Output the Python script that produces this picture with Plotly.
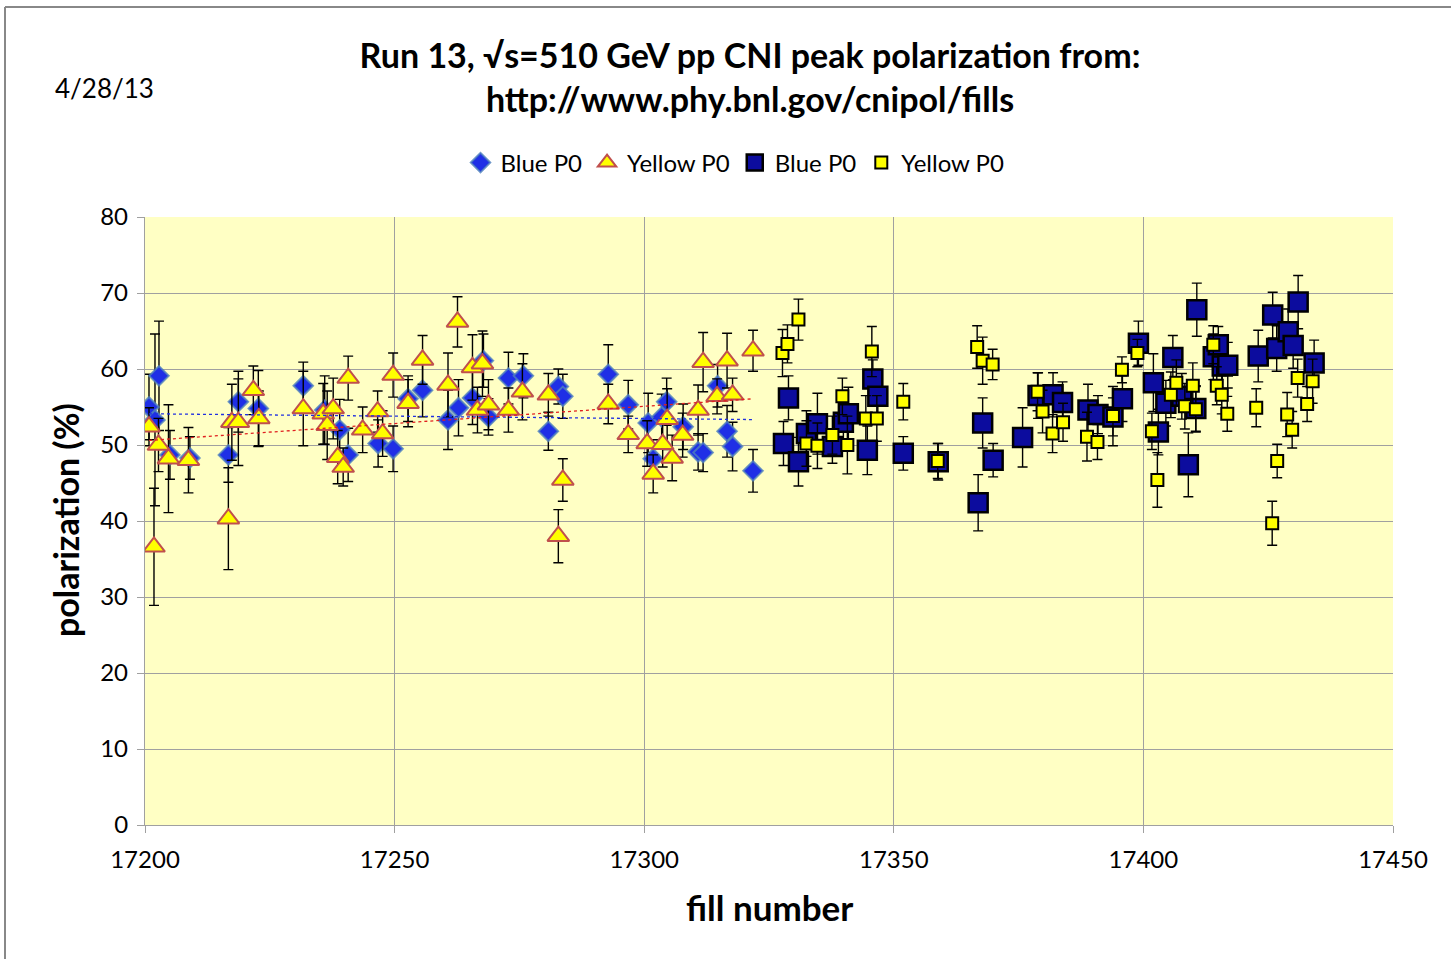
import numpy as np
import plotly.graph_objects as go

# ---- data ----
# old-style fills (diamonds / triangles)
blue_old_fill = [17200.8, 17202.0, 17202.8, 17205.0, 17209.0, 17216.7, 17218.7, 17222.7, 17231.7, 17236.0,
                 17239.0, 17240.7, 17246.7, 17249.7, 17252.7, 17255.6, 17260.7, 17262.8, 17265.6, 17267.8,
                 17268.8, 17272.8, 17275.8, 17280.8, 17282.8, 17283.7, 17292.8, 17296.8, 17300.8, 17301.8,
                 17303.5, 17304.5, 17307.8, 17310.8, 17311.8, 17314.7, 17316.6, 17317.7, 17321.8]
blue_old_pol = [55.0, 53.3, 59.1, 48.7, 48.3, 48.7, 55.7, 54.8, 57.8, 54.6,
                52.0, 48.7, 50.2, 49.5, 56.1, 57.2, 53.3, 54.9, 56.2, 61.1,
                53.7, 58.8, 59.1, 51.8, 57.7, 56.4, 59.3, 55.3, 52.9, 48.2,
                53.7, 55.7, 52.4, 49.1, 49.0, 57.8, 51.8, 49.8, 46.6]
blue_old_err = [4.3, 11.3, 7.2, 3.2, 2.8, 3.6, 4.0, 5.0, 3.1, 4.5,
                4.0, 3.5, 3.1, 3.0, 3.0, 3.5, 3.9, 3.7, 3.5, 3.5,
                2.4, 3.4, 2.9, 2.5, 2.3, 2.9, 3.9, 3.2, 3.9, 2.5,
                3.0, 3.1, 3.0, 2.4, 2.5, 2.8, 3.4, 3.2, 2.8]

yellow_old_fill = [17200.8, 17201.8, 17202.7, 17204.7, 17208.7, 17216.7, 17217.4, 17218.7, 17221.7, 17222.8,
                   17231.7, 17235.7, 17236.5, 17237.7, 17238.6, 17239.7, 17240.7, 17243.6, 17246.6, 17247.6,
                   17249.7, 17252.7, 17255.6, 17260.7, 17262.6, 17265.6, 17266.6, 17267.6, 17268.8, 17272.8,
                   17275.6, 17280.8, 17282.8, 17283.7, 17292.8, 17296.8, 17300.6, 17301.8, 17303.7, 17304.6,
                   17305.6, 17307.7, 17310.8, 17311.8, 17314.6, 17316.6, 17317.7, 17321.8]
yellow_old_pol = [52.4, 36.6, 50.0, 48.2, 48.0, 40.3, 53.0, 53.0, 57.2, 53.5,
                  54.8, 54.1, 52.6, 54.8, 48.4, 47.1, 58.8, 52.0, 54.4, 51.5,
                  59.2, 55.5, 61.2, 57.9, 66.2, 60.2, 54.6, 60.7, 55.3, 54.6,
                  57.0, 56.6, 38.0, 45.4, 55.4, 51.4, 50.2, 46.2, 50.1, 53.4,
                  48.3, 51.3, 54.6, 60.9, 56.4, 61.1, 56.6, 62.4]
yellow_old_err = [2.5, 7.7, 3.5, 7.1, 4.3, 6.7, 5.0, 5.7, 3.2, 3.6,
                  4.9, 4.0, 4.5, 4.0, 3.5, 2.5, 2.9, 3.0, 2.7, 3.0,
                  2.9, 3.1, 3.2, 4.2, 3.3, 4.3, 3.0, 4.3, 3.3, 2.9,
                  3.7, 2.8, 3.5, 2.8, 2.6, 2.4, 3.0, 2.5, 3.0, 4.0,
                  3.0, 2.9, 3.3, 3.9, 2.3, 3.6, 2.2, 2.7]

# newer fills (squares)
blue_new_fill = [17327.9, 17328.9, 17330.9, 17332.5, 17334.7, 17337.7, 17339.9, 17340.9, 17344.7, 17345.8,
                 17346.8, 17351.9, 17358.9, 17366.9, 17367.8, 17369.9, 17375.8, 17378.9, 17381.9, 17383.8,
                 17388.9, 17390.9, 17393.9, 17395.8, 17399.0, 17402.0, 17403.0, 17404.5, 17405.9, 17407.7,
                 17409.0, 17410.5, 17410.7, 17414.0, 17415.0, 17415.8, 17416.9, 17423.0, 17425.9, 17426.7,
                 17429.0, 17430.0, 17431.0, 17434.2]
blue_new_pol = [50.2, 56.2, 47.8, 51.5, 52.8, 49.8, 53.0, 54.1, 49.3, 58.7,
                56.4, 48.9, 47.8, 42.4, 52.9, 48.0, 51.0, 56.5, 56.6, 55.6,
                54.6, 54.0, 53.7, 56.1, 63.4, 58.2, 51.7, 55.5, 61.5, 56.4,
                47.4, 54.8, 67.8, 61.6, 63.2, 60.4, 60.5, 61.7, 67.1, 62.7,
                64.9, 63.1, 68.8, 60.8]
blue_new_err = [2.9, 2.9, 3.2, 3.0, 4.0, 2.2, 3.0, 3.5, 3.2, 2.5,
                3.0, 2.2, 2.4, 3.7, 3.3, 2.2, 3.9, 3.0, 2.9, 2.7,
                3.4, 2.5, 2.5, 3.0, 2.9, 3.8, 3.0, 3.0, 2.9, 3.0,
                4.2, 3.0, 3.5, 3.0, 2.4, 3.0, 3.0, 3.4, 3.0, 3.0,
                3.0, 3.0, 3.5, 3.0]

yellow_new_fill = [17327.7, 17328.7, 17330.9, 17332.5, 17334.7, 17337.7, 17339.7, 17340.7, 17344.4, 17345.6,
                   17346.6, 17351.9, 17358.8, 17366.7, 17367.8, 17369.8, 17378.8, 17379.8, 17381.8, 17383.9,
                   17388.7, 17390.8, 17393.9, 17395.7, 17398.8, 17401.7, 17402.8, 17405.5, 17406.6, 17408.3,
                   17409.9, 17410.5, 17414.0, 17414.7, 17415.7, 17416.8, 17422.6, 17425.8, 17426.8, 17428.8,
                   17429.8, 17430.9, 17432.8, 17433.9]
yellow_new_pol = [62.1, 63.3, 66.5, 50.2, 49.9, 51.3, 56.4, 50.0, 53.5, 62.3,
                  53.5, 55.7, 47.9, 62.9, 61.1, 60.6, 57.0, 54.4, 51.5, 53.0,
                  51.1, 50.4, 53.8, 59.9, 62.1, 51.8, 45.4, 56.6, 58.2, 55.1,
                  57.8, 54.7, 63.2, 57.8, 56.6, 54.1, 54.9, 39.7, 47.9, 54.0,
                  52.0, 58.8, 55.4, 58.4]
yellow_new_err = [3.1, 2.5, 2.7, 3.0, 3.0, 2.5, 2.4, 3.8, 3.0, 3.3,
                  3.0, 2.4, 2.3, 2.8, 3.1, 2.0, 2.5, 2.8, 2.5, 2.5,
                  3.2, 2.3, 3.9, 1.7, 1.8, 2.4, 3.6, 3.0, 3.0, 3.0,
                  3.0, 3.0, 2.5, 2.5, 2.5, 2.3, 2.5, 2.9, 2.2, 2.9,
                  2.4, 2.5, 2.3, 2.9]

FONT = "Lato"


def err_bar(e):
    return dict(type="data", array=e, visible=True, color="black", thickness=1.4, width=5)


fig = go.Figure()

fig.add_trace(go.Scatter(
    x=blue_old_fill, y=blue_old_pol, mode="markers", name="Blue P0",
    error_y=err_bar(blue_old_err),
    marker=dict(symbol="diamond", size=15, color="#1F2FE6",
                line=dict(color="rgba(79,129,189,0.8)", width=2))))
fig.add_trace(go.Scatter(
    x=yellow_old_fill, y=yellow_old_pol, mode="markers", name="Yellow P0",
    error_y=err_bar(yellow_old_err),
    marker=dict(symbol="triangle-up", size=19, color="#FFFF00",
                line=dict(color="#C0504D", width=2))))
fig.add_trace(go.Scatter(
    x=blue_new_fill, y=blue_new_pol, mode="markers", name="Blue P0",
    error_y=err_bar(blue_new_err),
    marker=dict(symbol="square", size=19, color="#0C0C9E",
                line=dict(color="black", width=2.5))))
fig.add_trace(go.Scatter(
    x=yellow_new_fill, y=yellow_new_pol, mode="markers", name="Yellow P0",
    error_y=err_bar(yellow_new_err),
    marker=dict(symbol="square", size=12, color="#FFFF00",
                line=dict(color="black", width=2))))

# linear trendlines over the diamond / triangle series (Excel style)
for xs, ys, col in [(blue_old_fill, blue_old_pol, "#2030E0"),
                    (yellow_old_fill, yellow_old_pol, "#E02020")]:
    k, b = np.polyfit(xs, ys, 1)
    tx = np.array([min(xs), max(xs)])
    fig.add_trace(go.Scatter(x=tx, y=k * tx + b, mode="lines", showlegend=False,
                             hoverinfo="skip",
                             line=dict(color=col, width=1.3, dash="dot")))

fig.update_layout(
    width=1451, height=959,
    margin=dict(l=145, r=58, t=217, b=134),
    paper_bgcolor="white", plot_bgcolor="#FFFFC4",
    font=dict(family=FONT, size=24, color="black"),
    title=dict(text="<b>Run 13, √s=510 GeV pp CNI peak polarization from:<br>"
                    "http://www.phy.bnl.gov/cnipol/fills</b>",
               x=750 / 1451, xanchor="center", xref="container",
               y=1 - 68 / 959, yanchor="middle", yref="container",
               font=dict(family=FONT, size=34, color="black")),
    legend=dict(orientation="h", xref="container", yref="container",
                x=735 / 1451, xanchor="center", y=1 - 163 / 959, yanchor="middle",
                font=dict(family=FONT, size=24), itemsizing="trace",
                bgcolor="rgba(0,0,0,0)", itemwidth=30, tracegroupgap=0),
    showlegend=True,
)

fig.update_xaxes(range=[17200, 17450], dtick=50, tick0=17200, tickformat="d",
                 showgrid=True, gridcolor="#A0A0A0", gridwidth=1.3,
                 showline=True, linecolor="#A0A0A0", linewidth=1.3,
                 ticks="outside", ticklen=7, tickcolor="#A0A0A0",
                 zeroline=False, tickfont=dict(size=24), ticklabelstandoff=6)
fig.update_yaxes(range=[0, 80], dtick=10,
                 showgrid=True, gridcolor="#A0A0A0", gridwidth=1.3,
                 showline=True, linecolor="#A0A0A0", linewidth=1.3,
                 ticks="outside", ticklen=7, tickcolor="#A0A0A0",
                 zeroline=False, tickfont=dict(size=24), ticklabelstandoff=4)

# axis titles and date note
fig.add_annotation(text="<b>fill number</b>", xref="paper", yref="paper",
                   x=(769 - 145) / 1248, y=(825 - 907) / 608, yanchor="middle", showarrow=False,
                   font=dict(family=FONT, size=35))
fig.add_annotation(text="<b>polarization (%)</b>", xref="paper", yref="paper",
                   x=(65 - 145) / 1248, y=(825 - 520) / 608, textangle=-90,
                   xanchor="center", yanchor="middle", showarrow=False,
                   font=dict(family=FONT, size=34))
fig.add_annotation(text="4/28/13", xref="paper", yref="paper",
                   x=(53 - 145) / 1248, xanchor="left", y=(825 - 88) / 608,
                   yanchor="middle", showarrow=False,
                   font=dict(family=FONT, size=26))

# chart frame (top and left edges visible)
fig.add_shape(type="line", xref="paper", yref="paper",
              x0=(5 - 145) / 1248, x1=(1451 - 145) / 1248,
              y0=(825 - 7) / 608, y1=(825 - 7) / 608,
              line=dict(color="#888888", width=2))
fig.add_shape(type="line", xref="paper", yref="paper",
              x0=(5 - 145) / 1248, x1=(5 - 145) / 1248,
              y0=(825 - 7) / 608, y1=(825 - 960) / 608,
              line=dict(color="#888888", width=2))

# drop the default page margin so the figure sits at the window origin
fig.write_html("out.html", config={"displayModeBar": False},
               post_script="document.body.style.margin='0';")
